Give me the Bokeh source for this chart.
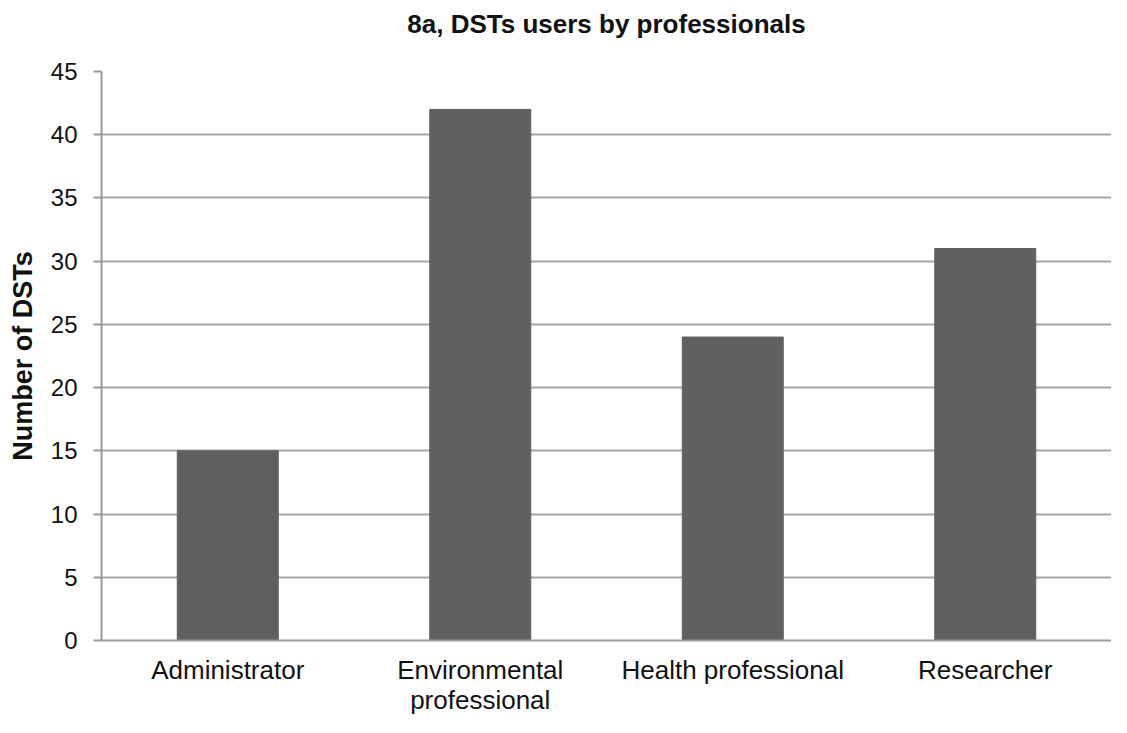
from bokeh.plotting import figure
from bokeh.models import FactorRange, Range1d, SingleIntervalTicker, Title
from bokeh.embed import file_html
from bokeh.resources import INLINE

categories = ["Administrator", "Environmental\nprofessional", "Health professional", "Researcher"]
counts = [15, 42, 24, 31]
title_text = "8a, DSTs users by professionals"
y_label = "Number of DSTs"

FONT = "Liberation Sans"

p = figure(
    width=1111, height=717,
    x_range=FactorRange(factors=categories, range_padding=0),
    y_range=Range1d(0, 45),
    output_backend="svg", toolbar_location=None,
    min_border_left=101, min_border_right=0, min_border_top=71, min_border_bottom=60,
    title=title_text,
)

p.vbar(x=categories, top=counts, width=0.4, fill_color="#606060", line_color="#606060")

p.title.align = "center"
p.title.text_font = FONT
p.title.text_font_size = "26px"
p.title.text_font_style = "bold"
p.title.text_color = "#111111"

# spacer between title and plot frame
p.add_layout(Title(text=" ", text_font_size="14px", text_font=FONT), "above")

p.outline_line_color = None
p.background_fill_color = "white"
p.border_fill_color = "white"

# y axis
p.yaxis.ticker = SingleIntervalTicker(interval=5)
p.yaxis.axis_label = y_label
p.yaxis.axis_label_text_font = FONT
p.yaxis.axis_label_text_font_size = "27px"
p.yaxis.axis_label_text_font_style = "bold"
p.yaxis.axis_label_text_color = "#111111"
p.yaxis.axis_label_standoff = 10
p.yaxis.major_label_text_font = FONT
p.yaxis.major_label_text_font_size = "24px"
p.yaxis.major_label_text_color = "#111111"
p.yaxis.major_label_standoff = 16
p.yaxis.axis_line_color = "#999999"
p.yaxis.axis_line_width = 2
p.yaxis.major_tick_line_color = "#999999"
p.yaxis.major_tick_line_width = 2
p.yaxis.major_tick_out = 8
p.yaxis.major_tick_in = 0
p.yaxis.minor_tick_line_color = None

# x axis
p.xaxis.major_label_text_font = FONT
p.xaxis.major_label_text_font_size = "26px"
p.xaxis.major_label_text_color = "#111111"
p.xaxis.major_label_text_line_height = 1.0
p.xaxis.major_label_standoff = 8
p.xaxis.axis_line_color = "#999999"
p.xaxis.axis_line_width = 2
p.xaxis.major_tick_line_color = None
p.xaxis.minor_tick_line_color = None

p.xgrid.grid_line_color = None
p.ygrid.grid_line_color = "#a6a6a6"
p.ygrid.grid_line_width = 2

open("out.html", "w").write(file_html(p, INLINE))
